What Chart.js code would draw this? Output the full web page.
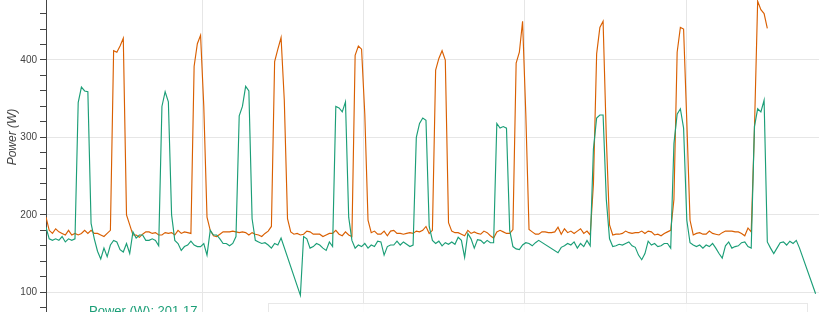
<!DOCTYPE html>
<html>
<head>
<meta charset="utf-8">
<script src="https://cdn.jsdelivr.net/npm/chart.js@4"></script>
<style>
  html, body { margin: 0; padding: 0; background: #fff; overflow: hidden; }
  #wrap { position: relative; width: 819px; height: 312px; }
  #readout { position: absolute; left: 89px; top: 303px; font: 13px/15px "Liberation Sans", Arial, sans-serif; color: #1b9e77; white-space: nowrap; }
  #panel { position: absolute; left: 268px; top: 303px; width: 538px; height: 40px; border: 1px solid #e8e8e8; background: rgba(255,255,255,0.85); }
</style>
</head>
<body>
<div id="wrap">
  <canvas id="power-chart"></canvas>
  <div id="readout">Power (W): 201.17</div>
  <div id="panel"></div>
</div>
<script>
// sampling: first sample time and interval (s)
const t0 = 2.5;
const dt = 2;

// green series, W (null = missing sample, line is joined across)
const greenW = [
  184, 169, 167, 169, 167, 172, 165, 169, 167, 169,
  345, 365, 360, 359, 189, 169, 153, 143, 157, 146,
  161, 167, 165, 155, 152, 163, 150, 178, 170, 174,
  174, 167, 167, 169, 167, 160, 340, 359, 346, 200,
  167, 163, 154, 159, 161, 166, 161, 159, 159, 163,
  148, 180, 174, 174, 169, 163, 163, 160, 163, 172,
  328, 340, 366, 360, 195, 167, 165, 163, 164, 161,
  157, 163, 161, 170, null, null, null, null, null, 96,
  172, 169, 157, 159, 163, 161, 157, 154, 165, 159,
  340, 338, 333, 346, 197, 167, 157, 161, 159, 163,
  157, 161, 159, 166, 165, 148, 159, 161, 161, 166,
  161, 165, 162, 159, 161, 300, 318, 325, 322, 185,
  167, 163, 166, 160, 164, 162, 165, 162, 171, 167,
  145, 176, 169, 157, 168, 167, 163, 167, 164, 164,
  318, 312, 314, 312, 180, 159, 156, 155, 161, 164,
  163, 160, 164, 167, null, null, null, null, null, 151,
  158, 160, 163, 161, 165, 157, 163, 159, 167, 160,
  285, 325, 329, 329, 220, 169, 159, 160, 162, 161,
  163, 165, 160, 158, 148, 142, 150, 166, 161, 163,
  159, 160, 163, 163, 157, 292, 330, 337, 312, 193,
  164, 161, 159, 161, 157, 161, 159, 163, 157, 150,
  144, 160, 165, 157, 159, 160, 164, 165, 159, 157,
  314, 337, 333, 348, 165, 157, 150, 157, 164, 165,
  161, 166, 163, 167, 157, null, null, null, null, 98
];

// orange series, W
const orangeW = [
  197, 180, 176, 182, 178, 176, 174, 180, 174, 176,
  174, 176, 180, 176, 180, 176, 176, 174, 172, 176,
  180, 412, 410, 418, 428, 200, 187, 174, 174, 171,
  175, 178, 178, 176, 177, 174, 174, 177, 176, 177,
  174, 180, 176, 178, 177, 176, 392, 421, 432, 340,
  197, 180, 173, 172, 175, 178, 178, 178, 179, 178,
  177, 178, 177, 174, 177, 175, 174, 172, 176, 179,
  185, 398, 414, 429, 348, 195, 178, 175, 176, 174,
  175, 179, 178, 175, 175, 175, 172, 174, 176, 176,
  180, 175, 173, 178, 174, 172, 406, 418, 414, 330,
  193, 177, 179, 175, 175, 179, 173, 179, 180, 176,
  176, 175, 176, 177, 176, 179, 178, 180, 185, 176,
  180, 387, 402, 412, 400, 190, 179, 177, 177, 175,
  173, 180, 176, 178, 176, 175, 179, 177, 173, 170,
  178, 180, 178, 176, 176, 181, 396, 410, 450, 330,
  181, 178, 175, 175, 178, 178, 177, 177, 178, 184,
  175, 182, 177, 179, 176, 179, 182, 176, 179, 174,
  240, 408, 442, 450, 300, 187, 174, 175, 175, 176,
  179, 177, 176, 177, 177, 179, 176, 179, 178, 174,
  175, 173, 176, 178, 180, 220, 410, 442, 440, 320,
  193, 174, 176, 177, 175, 175, 179, 176, 175, 174,
  177, 179, 179, 179, 178, 178, 176, 173, 183, 178,
  310, 476, 465, 460, 441
];

// axes
const xRange = [2.5, 482.6];
const xGrid = [100, 200, 300, 400];
const yRange = [74.5, 477.5];
const yLabels = [100, 200, 300, 400];
const yTicks = [80, 100, 120, 140, 160, 180, 200, 220, 240, 260, 280, 300, 320, 340, 360, 380, 400, 420, 440, 460];

const fontFamily = '"Liberation Sans", Arial, Helvetica, sans-serif';

function toPoints(values) {
    return values.map((v, i) => ({ x: t0 + i * dt, y: v }));
}

// y軸タイトル (Bokeh風のイタリック)
const axisTitle = {
    id: 'axisTitle',
    afterDraw(chart) {
        const ctx = chart.ctx;
        ctx.save();
        ctx.translate(16, 137);
        ctx.rotate(-Math.PI / 2);
        ctx.font = 'italic 12px ' + fontFamily;
        ctx.fillStyle = '#444';
        ctx.textAlign = 'center';
        ctx.textBaseline = 'alphabetic';
        ctx.fillText('Power (W)', 0, 0);
        ctx.restore();
    }
};

new Chart(document.getElementById('power-chart'), {
    type: 'line',
    data: {
        datasets: [{
            label: 'Power (W)',
            data: toPoints(greenW),
            borderColor: '#1b9e77',
            borderWidth: 1.15,
            pointRadius: 0,
            tension: 0,
            spanGaps: true
        }, {
            label: 'Power (W) 2',
            data: toPoints(orangeW),
            borderColor: '#d95f02',
            borderWidth: 1.15,
            pointRadius: 0,
            tension: 0
        }]
    },
    options: {
        responsive: true,
        maintainAspectRatio: false,
        animation: false,
        layout: { padding: 0 },
        plugins: {
            legend: { display: false },
            tooltip: { enabled: false }
        },
        scales: {
            x: {
                type: 'linear',
                min: xRange[0],
                max: xRange[1],
                afterBuildTicks: s => { s.ticks = xGrid.map(v => ({ value: v })); },
                afterFit: s => { s.height = 0; },
                ticks: { display: false },
                grid: { color: '#e6e6e6', drawTicks: false },
                border: { display: false }
            },
            y: {
                min: yRange[0],
                max: yRange[1],
                afterBuildTicks: s => { s.ticks = yTicks.map(v => ({ value: v })); },
                afterFit: s => { s.width = 46; s.paddingTop = 0; s.paddingBottom = 0; },
                ticks: {
                    autoSkip: false,
                    padding: 3,
                    color: '#444',
                    font: { family: fontFamily, size: 10 },
                    callback: v => yLabels.includes(v) ? String(v) : ''
                },
                grid: {
                    color: c => (c.tick && yLabels.includes(c.tick.value)) ? '#e6e6e6' : 'rgba(0,0,0,0)',
                    tickColor: '#444',
                    tickLength: 6
                },
                border: { color: '#444', width: 1 }
            }
        }
    },
    plugins: [axisTitle]
});
</script>
</body>
</html>
